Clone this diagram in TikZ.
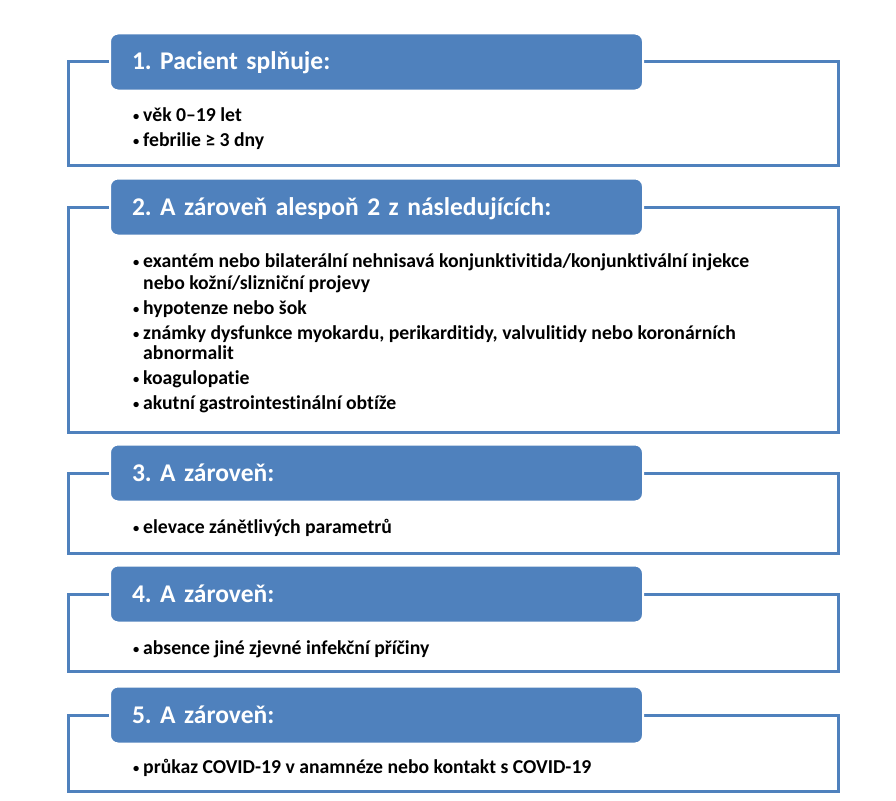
\documentclass[tikz,border=0pt]{standalone}
\usepackage{fontspec}
\setmainfont{Carlito}[Ligatures=NoCommon]
\definecolor{hdblue}{HTML}{4F81BD}
\newcommand{\itm}[1]{\makebox[10pt][l]{\raisebox{1pt}{\fontsize{12.5}{12.5}\selectfont•}}#1}
\frenchspacing

\begin{document}
\begin{tikzpicture}[x=1pt, y=-1pt,
    frame/.style={draw=hdblue, line width=3pt, minimum width=770pt, inner sep=0pt},
    header/.style={fill=hdblue, draw=white, line width=2pt, rounded corners=8pt,
        minimum width=533pt, minimum height=57pt, inner xsep=22pt, inner ysep=0pt,
        text width=489pt, text height=16pt, text depth=0pt, align=left,
        text=white, font=\fontsize{25.5}{29}\selectfont\bfseries},
    item/.style={anchor=base west, inner sep=0pt, font=\fontsize{19.7}{22}\selectfont\bfseries}]
    \useasboundingbox (0,0) rectangle (896,800);

    % Frames with their headers
    \foreach \i/\ytop/\ybot/\title in {1/62/165/{1. Pacient splňuje:},
        2/207/432/{2. A zároveň alespoň 2 z následujících:},
        3/473/553/{3. A zároveň:}, 4/594/671/{4. A zároveň:},
        5/715/791/{5. A zároveň:}} {
        \node[frame, minimum height={\ybot-\ytop}] (frame\i) at (453, {(\ytop+\ybot)/2}) {};
        \node[header] (head\i) at (376.5, \ytop) {\title};
    }

    % Block 1
    \node[item] (b1a) at (133,121) {\itm{věk 0–19 let}};
    \node[item] (b1b) at (133,146) {\itm{febrilie ≥ 3 dny}};

    % Block 2
    \node[item] (b2a) at (133,267) {\itm{exantém nebo bilaterální nehnisavá konjunktivitida/konjunktivální injekce}};
    \node[item] (b2b) at (143,289) {nebo kožní/slizniční projevy};
    \node[item] (b2c) at (133,314) {\itm{hypotenze nebo šok}};
    \node[item] (b2d) at (133,339) {\itm{známky dysfunkce myokardu, perikarditidy, valvulitidy nebo koronárních}};
    \node[item] (b2e) at (143,359) {abnormalit};
    \node[item] (b2f) at (133,384) {\itm{koagulopatie}};
    \node[item] (b2g) at (133,409) {\itm{akutní gastrointestinální obtíže}};

    % Blocks 3 to 5
    \node[item] (b3a) at (133,533) {\itm{elevace zánětlivých parametrů}};
    \node[item] (b4a) at (133,654) {\itm{absence jiné zjevné infekční příčiny}};
    \node[item] (b5a) at (133,773) {\itm{průkaz COVID-19 v anamnéze nebo kontakt s COVID-19}};
\end{tikzpicture}
\end{document}
